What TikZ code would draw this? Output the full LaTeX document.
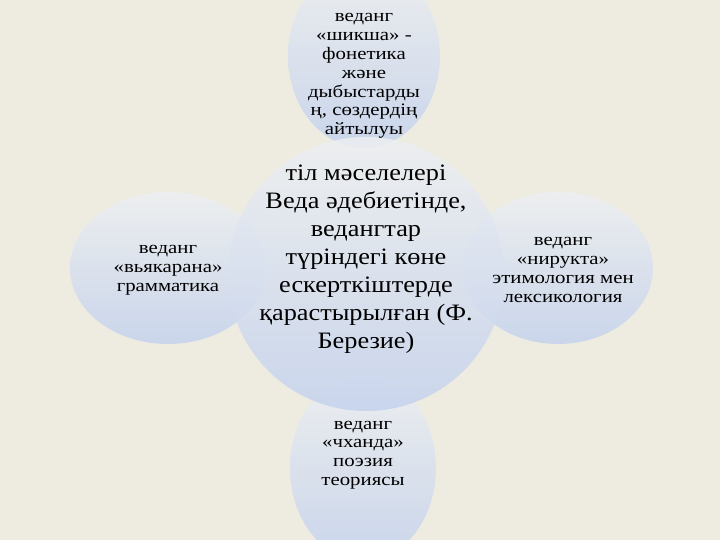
\documentclass[tikz,border=0pt]{standalone}
\usepackage{fontspec}
\setmainfont{Liberation Serif}[FakeStretch=1.12]
\newfontfamily\smallfont{Liberation Serif}[FakeStretch=1.19]
\usepackage{tikz}
\usetikzlibrary{shapes,positioning}

\definecolor{bgcream}{RGB}{238,236,225}
\definecolor{bubbletop}{RGB}{237,239,242}
\definecolor{bubblebottom}{RGB}{196,210,237}

\tikzset{
    bubble/.style={ellipse, inner sep=0pt, top color=bubbletop, bottom color=bubblebottom, fill opacity=0.85},
    smalltext/.style={align=center, font=\smallfont\fontsize{17.5}{18.8}\selectfont},
    bigtext/.style={align=center, font=\fontsize{23.5}{28}\selectfont}
}

\begin{document}
\begin{tikzpicture}[x=1pt, y=-1pt]
    % background
    \fill [bgcream] (0,0) rectangle (720,540);
    \useasboundingbox (0,0) rectangle (720,540);

    % outer bubbles
    \node [bubble, minimum width=152pt, minimum height=184pt] (top) at (364,56) {};
    \node [bubble, minimum width=196pt, minimum height=152pt] (left) at (168,268) {};
    \node [bubble, minimum width=190pt, minimum height=152pt] (right) at (558,268) {};
    \node [bubble, minimum width=146pt, minimum height=186pt] (bottom) at (363,468) {};

    % centre bubble
    \node [bubble, minimum width=276pt, minimum height=274pt] (centre) at (366,274) {};

    % texts
    \node [bigtext] at (366,259) {тіл мәселелері\\ Веда әдебиетінде,\\ ведангтар\\ түріндегі көне\\ ескерткіштерде\\ қарастырылған (Ф.\\ Березие)};
    \node [smalltext] at (364,76) {веданг\\ «шикша» -\\ фонетика\\ және\\ дыбыстарды\\ ң, сөздердің\\ айтылуы};
    \node [smalltext] at (168,270) {веданг\\ «вьякарана»\\ грамматика};
    \node [smalltext] at (563,270) {веданг\\ «нирукта»\\ этимология мен\\ лексикология};
    \node [smalltext] at (363,455) {веданг\\ «чханда»\\ поэзия\\ теориясы};
\end{tikzpicture}
\end{document}
